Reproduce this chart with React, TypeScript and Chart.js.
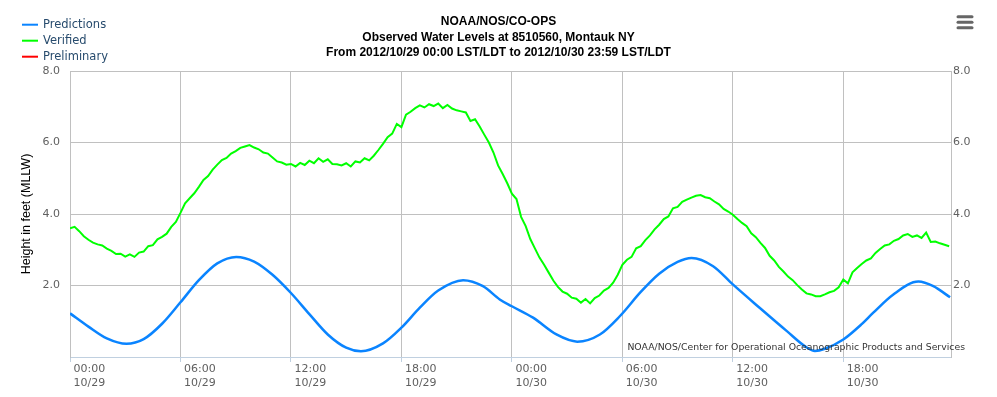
import React, { useEffect, useRef } from 'react';
import { Chart, registerables } from 'chart.js';

Chart.register(...registerables);

const titleLines = [
  'NOAA/NOS/CO-OPS',
  'Observed Water Levels at 8510560, Montauk NY',
  'From 2012/10/29 00:00 LST/LDT to 2012/10/30 23:59 LST/LDT',
];
const yAxisTitle = 'Height in feet (MLLW)';
const creditText = 'NOAA/NOS/Center for Operational Oceanographic Products and Services';

const seriesNames = ['Predictions', 'Verified', 'Preliminary'];
const seriesColors = ['#0a84ff', '#00ff00', '#ff0000'];

// x axis: hours since 2012/10/29 00:00
const xTickHours = [0, 6, 12, 18, 24, 30, 36, 42];
const xTickTimes = ['00:00', '06:00', '12:00', '18:00', '00:00', '06:00', '12:00', '18:00'];
const xTickDates = ['10/29', '10/29', '10/29', '10/29', '10/30', '10/30', '10/30', '10/30'];
const xMaxHour = 47.85;

const yTickValues = [2, 4, 6, 8];

// Predictions (hour, feet)
const predHours = [
  0, 1, 2, 3.07, 4, 5, 6, 7, 8, 9.03, 10, 11, 12, 13, 14, 15, 15.8, 17, 18, 19, 20, 21.35,
  22.43, 23.34, 24, 25.15, 26.42, 27.55, 28.78, 29.86, 31, 32, 33, 33.76, 34.93, 36, 37.47,
  38.92, 40, 40.46, 41, 42, 43, 43.63, 44.72, 46.08, 46.89, 47.8,
];
const predFeet = [
  1.22, 0.85, 0.52, 0.37, 0.5, 0.93, 1.53, 2.15, 2.62, 2.8, 2.67, 2.3, 1.79, 1.2, 0.63, 0.26, 0.16, 0.38, 0.82, 1.38, 1.86, 2.15,
  1.98, 1.61, 1.42, 1.1, 0.63, 0.43, 0.63, 1.14, 1.82, 2.33, 2.66, 2.77, 2.54, 2.03, 1.37,
  0.73, 0.27, 0.17, 0.23, 0.49, 0.92, 1.24, 1.75, 2.11, 1.98, 1.67,
];

// Verified, every 15 minutes starting 00:00 10/29
const verifiedStepHours = 0.25;
const verifiedFeet = [
  3.6, 3.64, 3.52, 3.38, 3.28, 3.2, 3.15, 3.12, 3.03, 2.97, 2.88, 2.89, 2.81, 2.87, 2.8, 2.92,
  2.95, 3.1, 3.13, 3.29, 3.36, 3.45, 3.64, 3.78, 4.03, 4.3, 4.44, 4.58, 4.76, 4.95, 5.06, 5.24,
  5.38, 5.51, 5.57, 5.69, 5.76, 5.85, 5.89, 5.93, 5.86, 5.81, 5.72, 5.69, 5.58, 5.47, 5.44, 5.38,
  5.4, 5.33, 5.43, 5.37, 5.49, 5.42, 5.56, 5.46, 5.53, 5.4, 5.39, 5.36, 5.42, 5.33, 5.47, 5.44,
  5.56, 5.5, 5.63, 5.79, 5.96, 6.15, 6.25, 6.52, 6.43, 6.78, 6.86, 6.96, 7.04, 6.98, 7.07, 7.02,
  7.09, 6.96, 7.05, 6.95, 6.9, 6.87, 6.84, 6.6, 6.65, 6.45, 6.22, 6.0, 5.72, 5.36, 5.12, 4.86,
  4.57, 4.42, 3.92, 3.66, 3.3, 3.04, 2.78, 2.58, 2.36, 2.14, 1.96, 1.83, 1.77, 1.66, 1.63, 1.52,
  1.62, 1.5, 1.65, 1.72, 1.86, 1.93, 2.08, 2.3, 2.58, 2.72, 2.8, 3.04, 3.1, 3.27, 3.4, 3.57,
  3.7, 3.86, 3.93, 4.16, 4.2, 4.34, 4.4, 4.46, 4.51, 4.53, 4.47, 4.44, 4.35, 4.27, 4.14, 4.07,
  3.98, 3.86, 3.75, 3.66, 3.46, 3.35, 3.19, 3.05, 2.83, 2.7, 2.52, 2.39, 2.25, 2.15, 2.01, 1.89,
  1.78, 1.75, 1.7, 1.7, 1.75, 1.81, 1.85, 1.95, 2.17, 2.06, 2.37, 2.49, 2.6, 2.7, 2.76, 2.91,
  3.02, 3.12, 3.15, 3.25, 3.3, 3.4, 3.44, 3.36, 3.4, 3.33, 3.48, 3.22, 3.23, 3.18, 3.14, 3.1,
];

const preliminaryFeet: number[] = [];

const FONT_SANS = '"DejaVu Sans", Verdana, sans-serif';
const FONT_ARIAL = '"Liberation Sans", Arial, sans-serif';

const overlayPlugin = {
  id: 'overlay',
  afterDraw(chart: any) {
    const ctx = chart.ctx as CanvasRenderingContext2D;
    ctx.save();
    // Title
    ctx.fillStyle = '#000000';
    ctx.font = 'bold 12px ' + FONT_ARIAL;
    ctx.textAlign = 'center';
    ctx.textBaseline = 'middle';
    titleLines.forEach((line, i) => {
      ctx.fillText(line, chart.width / 2, 22 + i * 15.3);
    });
    // Legend
    ctx.font = '11.5px ' + FONT_SANS;
    ctx.textAlign = 'left';
    chart.data.datasets.forEach((ds: any, i: number) => {
      const y = 24.7 + i * 16;
      ctx.strokeStyle = ds.borderColor;
      ctx.lineWidth = 2;
      ctx.beginPath();
      ctx.moveTo(22, y);
      ctx.lineTo(38, y);
      ctx.stroke();
      ctx.fillStyle = '#274b6d';
      ctx.fillText(ds.label, 43, y + 0.5);
    });
    // Credits
    ctx.font = '10px ' + FONT_SANS;
    const w = ctx.measureText(creditText).width;
    const size = (10 * 338) / w;
    ctx.font = size.toFixed(2) + 'px ' + FONT_SANS;
    ctx.fillStyle = '#333333';
    ctx.textAlign = 'right';
    ctx.fillText(creditText, 965, 348);
    // Menu icon
    ctx.strokeStyle = '#666666';
    ctx.lineWidth = 3;
    ctx.lineCap = 'round';
    [16.8, 22.3, 27.8].forEach((y) => {
      ctx.beginPath();
      ctx.moveTo(958, y);
      ctx.lineTo(972, y);
      ctx.stroke();
    });
    ctx.restore();
  },
};

export default function App() {
  const canvasRef = useRef<HTMLCanvasElement | null>(null);

  useEffect(() => {
    const canvas = canvasRef.current;
    if (!canvas) return;

    const predData = predHours.map((h, i) => ({ x: h, y: predFeet[i] }));
    const verData = verifiedFeet.map((v, i) => ({ x: i * verifiedStepHours, y: v }));
    const prelimData = preliminaryFeet.map((v, i) => ({ x: i * verifiedStepHours, y: v }));

    const tickLabel = (value: number) => {
      const idx = xTickHours.indexOf(value);
      if (idx < 0) return '';
      return [' ' + xTickTimes[idx], ' ' + xTickDates[idx]];
    };

    const yLabel = (value: number) => (yTickValues.includes(value) ? value.toFixed(1) : '');

    const chart = new Chart(canvas, {
      type: 'line',
      data: {
        datasets: [
          {
            label: seriesNames[0],
            data: predData,
            borderColor: seriesColors[0],
            backgroundColor: seriesColors[0],
            borderWidth: 2.5,
            pointRadius: 0,
            cubicInterpolationMode: 'monotone',
            fill: false,
          },
          {
            label: seriesNames[1],
            data: verData,
            borderColor: seriesColors[1],
            backgroundColor: seriesColors[1],
            borderWidth: 2,
            pointRadius: 0,
            tension: 0,
            fill: false,
          },
          {
            label: seriesNames[2],
            data: prelimData,
            borderColor: seriesColors[2],
            backgroundColor: seriesColors[2],
            borderWidth: 2,
            pointRadius: 0,
            fill: false,
          },
        ],
      },
      options: {
        animation: false,
        responsive: true,
        maintainAspectRatio: false,
        parsing: true,
        layout: { padding: { top: 71, left: 0, right: 0, bottom: 0 } },
        plugins: {
          legend: { display: false },
          title: { display: false },
          tooltip: { enabled: false },
        },
        scales: {
          x: {
            type: 'linear',
            min: 0,
            max: xMaxHour,
            afterBuildTicks: (scale: any) => {
              scale.ticks = xTickHours.map((h) => ({ value: h }));
            },
            afterFit: (scale: any) => {
              scale.height = 40;
            },
            grid: {
              color: '#c0c0c0',
              lineWidth: 1,
              drawTicks: true,
              tickLength: 5,
              tickColor: '#c0d0e0',
            },
            border: { display: true, color: '#c0d0e0', width: 1 },
            ticks: {
              autoSkip: false,
              maxRotation: 0,
              minRotation: 0,
              align: 'start',
              padding: 0,
              color: '#606060',
              font: { family: FONT_SANS, size: 11, lineHeight: 1.3 },
              callback: (value: any) => tickLabel(Number(value)),
            },
          },
          y: {
            type: 'linear',
            position: 'left',
            min: 0,
            max: 8,
            afterFit: (scale: any) => {
              scale.width = 70;
            },
            grid: {
              color: (c: any) => (c.tick && c.tick.value === 0 ? 'rgba(0,0,0,0)' : '#c0c0c0'),
              drawTicks: false,
            },
            border: { display: true, color: '#c0c0c0', width: 1 },
            ticks: {
              stepSize: 2,
              padding: 10,
              color: '#606060',
              font: { family: FONT_SANS, size: 11 },
              callback: (value: any) => yLabel(Number(value)),
            },
            title: {
              display: true,
              text: yAxisTitle,
              color: '#000000',
              font: { family: FONT_ARIAL, size: 12.5 },
              padding: { top: 19, bottom: 0 },
            },
          },
          y2: {
            type: 'linear',
            position: 'right',
            min: 0,
            max: 8,
            afterFit: (scale: any) => {
              scale.width = 46;
            },
            grid: { display: false, drawTicks: false },
            border: { display: true, color: '#c0c0c0', width: 1 },
            ticks: {
              stepSize: 2,
              padding: 2,
              color: '#606060',
              font: { family: FONT_SANS, size: 11 },
              callback: (value: any) => yLabel(Number(value)),
            },
          },
        },
      },
      plugins: [overlayPlugin],
    } as any);

    return () => {
      chart.destroy();
    };
  }, []);

  return (
    <div style={{ position: 'absolute', left: 0, top: 0, width: 997, height: 397, background: '#ffffff' }}>
      <canvas ref={canvasRef} />
    </div>
  );
}
